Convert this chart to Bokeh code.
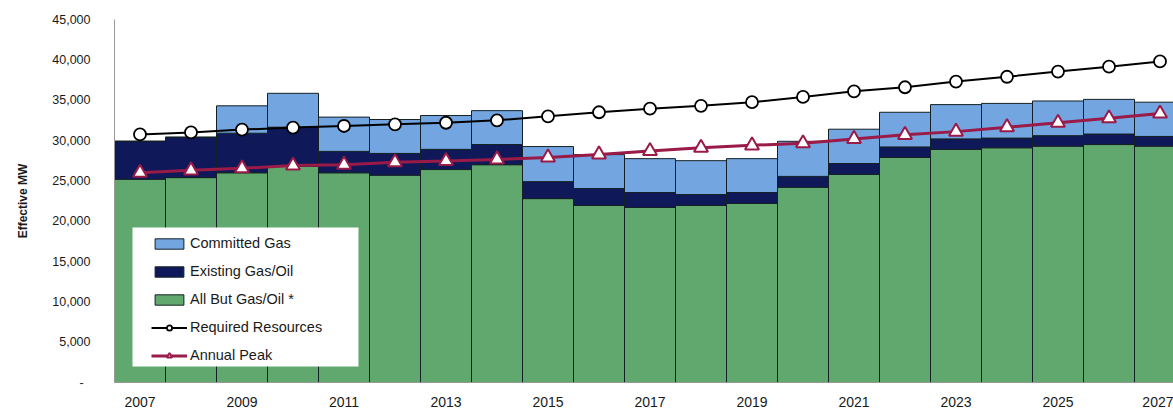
from bokeh.plotting import figure
from bokeh.models import (ColumnDataSource, Range1d, FixedTicker, CustomJSTickFormatter,
                          Legend, LegendItem, BoxAnnotation)
from bokeh.embed import file_html
from bokeh.resources import INLINE

years = list(range(2007, 2028))
all_but_gas_oil = [25200, 25400, 26000, 26800, 26000, 25700, 26400, 27000, 22800, 21950, 21700,
                   21950, 22200, 24200, 25800, 27900, 28900, 29100, 29300, 29500, 29300]
existing_gas_oil = [4700, 5000, 4900, 4850, 2650, 2700, 2500, 2500, 2100, 2100, 1850,
                    1350, 1350, 1350, 1350, 1300, 1300, 1200, 1300, 1300, 1200]
committed_gas = [0, 0, 3400, 4200, 4250, 4200, 4200, 4200, 4350, 4200, 4200,
                 4200, 4200, 4350, 4250, 4300, 4250, 4300, 4300, 4300, 4250]
required_resources = [30750, 31000, 31350, 31600, 31800, 32000, 32200, 32500, 33000, 33500, 33950,
                      34300, 34750, 35400, 36100, 36600, 37300, 37900, 38550, 39150, 39800]
annual_peak = [26000, 26300, 26550, 26900, 27000, 27300, 27450, 27650, 27900, 28270, 28700,
               29100, 29400, 29650, 30200, 30700, 31100, 31650, 32200, 32750, 33350]
x_tick_years = [2007, 2009, 2011, 2013, 2015, 2017, 2019, 2021, 2023, 2025, 2027]
y_ticks = [0, 5000, 10000, 15000, 20000, 25000, 30000, 35000, 40000, 45000]

source = ColumnDataSource(dict(year=years, all_but=all_but_gas_oil, existing=existing_gas_oil,
                               committed=committed_gas, required=required_resources,
                               peak=annual_peak))

GREEN = "#60a86e"
NAVY = "#0f195a"
LIGHT = "#73a5e1"
PEAK = "#9a1a48"
FONT = "Liberation Sans"

p = figure(width=1173, height=411, output_backend="svg", toolbar_location=None,
           x_range=Range1d(2006.5, 2006.5 + 1059 / 51.0), y_range=Range1d(0, 45000),
           min_border_left=114, min_border_right=0, min_border_top=19, min_border_bottom=29)
p.outline_line_color = None
p.background_fill_color = "white"

bars = p.vbar_stack(["all_but", "existing", "committed"], x="year", width=1.0,
                    color=[GREEN, NAVY, LIGHT], line_color="#142024", line_width=1,
                    source=source)

req_line = p.line("year", "required", source=source, line_color="black", line_width=2)
req_pts = p.scatter("year", "required", source=source, marker="circle", size=12,
                    fill_color="white", line_color="black", line_width=1.8)
peak_line = p.line("year", "peak", source=source, line_color=PEAK, line_width=3)
peak_pts = p.scatter("year", "peak", source=source, marker="triangle", size=14,
                     fill_color="white", line_color=PEAK, line_width=2)

# axes
p.xaxis.ticker = FixedTicker(ticks=x_tick_years)
p.xaxis.major_tick_line_color = None
p.xaxis.minor_tick_line_color = None
p.xaxis.axis_line_color = "#999999"
p.xaxis.major_label_standoff = 8
p.xaxis.major_label_text_font = FONT
p.xaxis.major_label_text_font_size = "14px"
p.xaxis.major_label_text_color = "#1a1a1a"

p.yaxis.ticker = FixedTicker(ticks=y_ticks)
p.yaxis.formatter = CustomJSTickFormatter(
    code="return tick == 0 ? '-\\u2007' : tick.toLocaleString('en-US');")
p.yaxis.major_tick_line_color = None
p.yaxis.minor_tick_line_color = None
p.yaxis.axis_line_color = "#999999"
p.yaxis.major_label_standoff = 18
p.yaxis.major_label_text_font = FONT
p.yaxis.major_label_text_font_size = "12.5px"
p.yaxis.major_label_text_color = "#1a1a1a"
p.yaxis.axis_label = "Effective MW"
p.yaxis.axis_label_text_font = FONT
p.yaxis.axis_label_text_font_size = "12px"
p.yaxis.axis_label_text_font_style = "bold"
p.yaxis.axis_label_text_color = "#1a1a1a"
p.yaxis.axis_label_standoff = 19

p.xgrid.grid_line_color = None
p.ygrid.ticker = FixedTicker(ticks=[45000])
p.ygrid.grid_line_color = "#aaaaaa"

# legend background box
p.add_layout(BoxAnnotation(left=2006.853, right=2011.284, bottom=1980, top=19200,
                           fill_color="white", fill_alpha=1.0, line_color=None))

legend = Legend(items=[
    LegendItem(label="Committed Gas", renderers=[bars[2]]),
    LegendItem(label="Existing Gas/Oil", renderers=[bars[1]]),
    LegendItem(label="All But Gas/Oil *", renderers=[bars[0]]),
    LegendItem(label="Required Resources", renderers=[req_line, req_pts]),
    LegendItem(label="Annual Peak", renderers=[peak_line, peak_pts]),
], location=(37, 17))
legend.background_fill_alpha = 0
legend.border_line_color = None
legend.padding = 5
legend.spacing = 8
legend.label_height = 20
legend.glyph_height = 13
legend.glyph_width = 36
legend.label_standoff = 3
legend.label_text_font = FONT
legend.label_text_font_size = "14.5px"
legend.label_text_color = "#1a1a1a"
p.add_layout(legend, "center")

open("out.html", "w").write(file_html(p, INLINE))
